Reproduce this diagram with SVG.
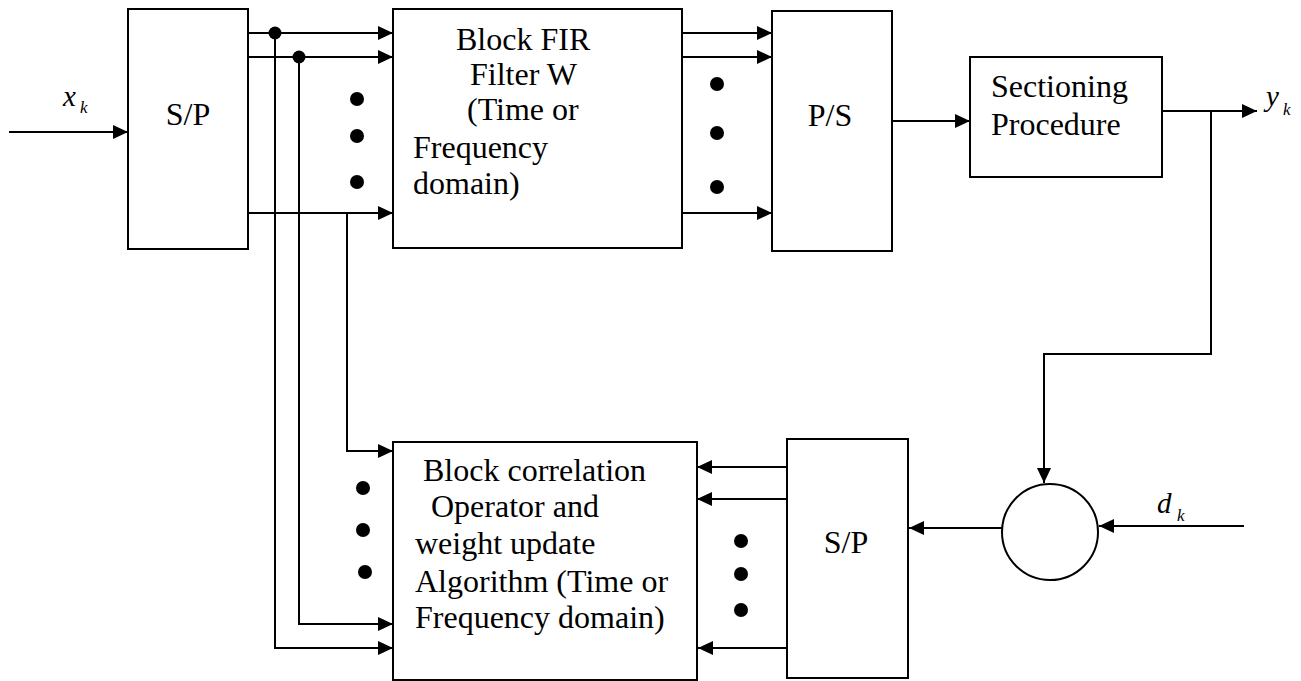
<svg xmlns="http://www.w3.org/2000/svg" width="1301" height="681" viewBox="0 0 1301 681">
<style>
.box{fill:#fff;stroke:#000;stroke-width:2}
.ln{fill:none;stroke:#000;stroke-width:2}
.arr{marker-end:url(#ah)}
.t{font-size:32px;fill:#000}
.m{font-style:italic;font-size:29px;fill:#000}
.s{font-style:italic;font-size:17px;fill:#000}
.dot{fill:#000}
</style>
<defs>
<marker id="ah" markerUnits="userSpaceOnUse" markerWidth="16" markerHeight="14" refX="15" refY="7" orient="auto">
<path d="M0,0 L15,7 L0,14 z" fill="#000"/>
</marker>
</defs>
<rect width="1301" height="681" fill="#fff"/>

<g id="connectors">
<line class="ln arr" x1="9" y1="132" x2="128" y2="132"/>
<line class="ln arr" x1="248" y1="33" x2="393" y2="33"/>
<line class="ln arr" x1="248" y1="57" x2="393" y2="57"/>
<line class="ln arr" x1="248" y1="213" x2="393" y2="213"/>
<polyline class="ln arr" points="275,33 275,648 393,648"/>
<polyline class="ln arr" points="299,57 299,624 393,624"/>
<polyline class="ln arr" points="347,213 347,451 393,451"/>
<circle class="dot" cx="275" cy="33" r="6.5"/>
<circle class="dot" cx="299" cy="57" r="6.5"/>
<line class="ln arr" x1="682" y1="33" x2="772" y2="33"/>
<line class="ln arr" x1="682" y1="57" x2="772" y2="57"/>
<line class="ln arr" x1="682" y1="213" x2="772" y2="213"/>
<line class="ln arr" x1="892" y1="121" x2="970" y2="121"/>
<line class="ln arr" x1="1162" y1="111" x2="1257" y2="111"/>
<polyline class="ln arr" points="1211,111 1211,354 1044,354 1044,483"/>
<line class="ln arr" x1="1244" y1="526" x2="1099" y2="526"/>
<line class="ln arr" x1="1007" y1="528" x2="909" y2="528"/>
<line class="ln arr" x1="787" y1="467" x2="697" y2="467"/>
<line class="ln arr" x1="787" y1="499" x2="697" y2="499"/>
<line class="ln arr" x1="790" y1="648" x2="698" y2="648"/>
</g>

<g id="dots">
<circle class="dot" cx="357" cy="99" r="7"/>
<circle class="dot" cx="357" cy="136" r="7"/>
<circle class="dot" cx="357" cy="182" r="7"/>
<circle class="dot" cx="717" cy="84" r="7"/>
<circle class="dot" cx="717" cy="133" r="7"/>
<circle class="dot" cx="717" cy="187" r="7"/>
<circle class="dot" cx="741" cy="541" r="7"/>
<circle class="dot" cx="741" cy="574" r="7"/>
<circle class="dot" cx="741" cy="610" r="7"/>
<circle class="dot" cx="363" cy="488" r="7"/>
<circle class="dot" cx="363" cy="530" r="7"/>
<circle class="dot" cx="365" cy="572" r="7"/>
</g>

<g font-family="Liberation Serif, Tinos, Times New Roman, DejaVu Serif, serif">
<g id="labels">
<text class="m" x="63" y="106">x</text><text class="s" x="80" y="113">k</text>
<text class="m" x="1266" y="106">y</text><text class="s" x="1283" y="115">k</text>
<text class="m" x="1157" y="513">d</text><text class="s" x="1177" y="521">k</text>
</g>

<g id="sp-top">
<rect class="box" x="128" y="9" width="120" height="240"/>
<text class="t" x="188" y="125" text-anchor="middle">S/P</text>
</g>

<g id="fir">
<rect class="box" x="393" y="9" width="289" height="239"/>
<text class="t" x="456" y="50">Block FIR</text>
<text class="t" x="470" y="85">Filter W</text>
<text class="t" x="467" y="120">(Time or</text>
<text class="t" x="413" y="158">Frequency</text>
<text class="t" x="413" y="194">domain)</text>
</g>

<g id="ps">
<rect class="box" x="772" y="11" width="120" height="240"/>
<text class="t" x="830" y="126" text-anchor="middle">P/S</text>
</g>

<g id="sectioning">
<rect class="box" x="970" y="57" width="192" height="120"/>
<text class="t" x="991" y="97">Sectioning</text>
<text class="t" x="991" y="135">Procedure</text>
</g>

<g id="sum">
<circle class="box" cx="1050" cy="532" r="48"/>
</g>

<g id="sp-bottom">
<rect class="box" x="787" y="439" width="121" height="239"/>
<text class="t" x="846" y="553" text-anchor="middle">S/P</text>
</g>

<g id="correlation">
<rect class="box" x="393" y="442" width="304" height="238"/>
<text class="t" x="423" y="481">Block correlation</text>
<text class="t" x="431" y="517">Operator and</text>
<text class="t" x="415" y="554">weight update</text>
<text class="t" x="415" y="592">Algorithm (Time or</text>
<text class="t" x="415" y="628">Frequency domain)</text>
</g>
</g>
</svg>
